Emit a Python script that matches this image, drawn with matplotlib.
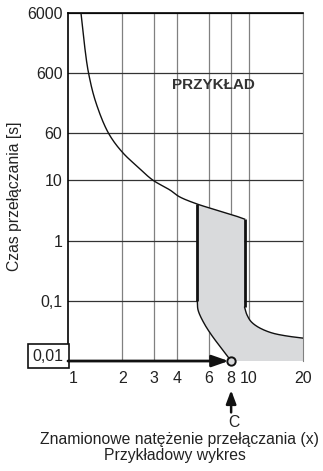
import numpy as np
import matplotlib.pyplot as plt
from matplotlib.transforms import blended_transform_factory, ScaledTranslation

plt.rcParams["font.family"] = ["Liberation Sans", "DejaVu Sans"]

# krzywa czasowo-prądowa (górna gałąź, nad szarym obszarem)
upper_x = [1.18, 1.23, 1.30, 1.43, 1.69, 2.02, 2.44, 2.96, 3.67, 4.17, 5.2, 6.11, 8.2, 9.5]
upper_t = [6000, 1905, 600, 192, 58, 28.3, 16.6, 10, 6.9, 5.27, 4.03, 3.46, 2.65, 2.27]

# lewa granica obszaru zadziałania (dolna część)
left_x = [5.2, 5.2, 5.25, 5.66, 6.35, 7.22, 7.79, 8.0]
left_t = [4.03, 0.1, 0.070, 0.0425, 0.0249, 0.0151, 0.0111, 0.01]

# prawa granica obszaru zadziałania
right_x = [9.5, 9.5, 9.8, 10.4, 11.6, 13.6, 16.3, 20]
right_t = [2.27, 0.078, 0.058, 0.044, 0.035, 0.029, 0.026, 0.024]

x_ticks = [1, 2, 3, 4, 6, 8, 10, 20]
x_labels = ["1", "2", "3", "4", "6", "8", "10", "20"]
y_ticks = [0.1, 1, 10, 60, 600, 6000]
y_labels = ["0,1", "1", "10", "60", "600", "6000"]


def smooth(xs, ys, n=24):
    # centripetalny Catmull-Rom w skali log-log
    p = np.column_stack([np.log10(xs), np.log10(ys)])
    p = np.vstack([2 * p[0] - p[1], p, 2 * p[-1] - p[-2]])
    out = []
    for i in range(1, len(p) - 2):
        p0, p1, p2, p3 = p[i - 1], p[i], p[i + 1], p[i + 2]
        t0 = 0.0
        t1 = t0 + np.linalg.norm(p1 - p0) ** 0.5
        t2 = t1 + np.linalg.norm(p2 - p1) ** 0.5
        t3 = t2 + np.linalg.norm(p3 - p2) ** 0.5
        t = np.linspace(t1, t2, n)[:, None]
        a1 = (t1 - t) / (t1 - t0) * p0 + (t - t0) / (t1 - t0) * p1
        a2 = (t2 - t) / (t2 - t1) * p1 + (t - t1) / (t2 - t1) * p2
        a3 = (t3 - t) / (t3 - t2) * p2 + (t - t2) / (t3 - t2) * p3
        b1 = (t2 - t) / (t2 - t0) * a1 + (t - t0) / (t2 - t0) * a2
        b2 = (t3 - t) / (t3 - t1) * a2 + (t - t1) / (t3 - t1) * a3
        c = (t2 - t) / (t2 - t1) * b1 + (t - t1) / (t2 - t1) * b2
        out.append(c if i == 1 else c[1:])
    c = np.vstack(out)
    return list(10 ** c[:, 0]), list(10 ** c[:, 1])


fig = plt.figure(figsize=(3.23, 4.71), dpi=100)
ax = fig.add_axes([0.2105, 0.2335, 0.7276, 0.7389])
ax.set_xscale("log")
ax.set_yscale("log")
ax.set_xlim(1, 20)
ax.set_ylim(0.01, 6000)

# siatka
for xv in x_ticks[1:]:
    ax.axvline(xv, color="#808080", lw=0.9, zorder=1)
for yv in y_ticks:
    ax.axhline(yv, color="#333333", lw=0.9, zorder=1)

ux, ut = smooth(upper_x, upper_t)
lx, lt = smooth(left_x[1:], left_t[1:])
rx, rt = smooth(right_x[1:], right_t[1:])

# szary obszar zadziałania
k = int(np.argmin(np.abs(np.array(ux) - 5.2)))
poly_x = ux[k:] + rx + [20, 8] + lx[::-1]
poly_t = ut[k:] + rt + [0.01, 0.01] + lt[::-1]
ax.fill(poly_x, poly_t, color="#d9dadc", lw=0, zorder=2)

ax.plot(ux, ut, color="#111111", lw=1.0, zorder=3)
ax.plot(left_x[:2], left_t[:2], color="#111111", lw=2.0, zorder=3, solid_capstyle="butt")
ax.plot(lx, lt, color="#111111", lw=1.0, zorder=3)
ax.plot(right_x[:2], right_t[:2], color="#111111", lw=2.0, zorder=3, solid_capstyle="butt")
ax.plot(rx, rt, color="#111111", lw=1.0, zorder=3)

# strzałka od 0,01 do punktu C
ax.annotate("", xy=(7.75, 0.01), xytext=(1, 0.01),
            arrowprops=dict(arrowstyle="-|>,head_length=1.0,head_width=0.35",
                            color="#111111", lw=2.0, shrinkA=0, shrinkB=0),
            zorder=4, annotation_clip=False)
ax.plot([8], [0.01], "o", ms=6, mfc="#d9dadc", mec="#111111", mew=1.4,
        zorder=5, clip_on=False)
ax.annotate("", xy=(8, 0.01), xycoords="data", xytext=(0, -37),
            textcoords="offset points",
            arrowprops=dict(arrowstyle="-|>,head_length=0.8,head_width=0.3",
                            color="#111111", lw=1.8, shrinkA=0, shrinkB=21),
            annotation_clip=False)

ax.set_xticks(x_ticks)
ax.set_xticklabels(x_labels)
ax.set_yticks(y_ticks)
ax.set_yticklabels(y_labels)
ax.minorticks_off()
ax.tick_params(axis="x", length=0, pad=7, labelsize=11.5, colors="#222222")
ax.tick_params(axis="y", length=0, pad=4, labelsize=11.5, colors="#222222")
lab1 = ax.get_xticklabels()[0]
lab1.set_transform(lab1.get_transform() + ScaledTranslation(4 / 72, 0, fig.dpi_scale_trans))

ax.spines["bottom"].set_visible(False)
ax.spines["right"].set_color("#808080")
ax.spines["left"].set_linewidth(1.2)
ax.spines["top"].set_linewidth(1.2)

# etykieta 0,01 w ramce
trans = blended_transform_factory(ax.transAxes, ax.transData)
ax.annotate("0,01", xy=(0, 0.01), xycoords=trans, xytext=(-3, 3.5),
            textcoords="offset points", ha="right", va="center", fontsize=11.5,
            color="#222222",
            bbox=dict(boxstyle="square,pad=0.3", fc="white", ec="#111111", lw=1.2),
            annotation_clip=False)

ax.text(0.621, 0.793, "PRZYKŁAD", transform=ax.transAxes, ha="center", va="center",
        fontsize=11, fontweight="bold", color="#333333")

ax.set_ylabel("Czas przełączania [s]", fontsize=11.3, color="#222222")
ax.yaxis.set_label_coords(-0.196, 0.474)
fig.text(0.7245, 0.102, "C", ha="center", va="center", fontsize=11.3, color="#222222")
fig.text(0.555, 0.066, "Znamionowe natężenie przełączania (x)", ha="center",
         va="center", fontsize=11.3, color="#222222")
fig.text(0.542, 0.032, "Przykładowy wykres", ha="center", va="center",
         fontsize=11.3, color="#222222")

fig.savefig("out.png", dpi=100)
